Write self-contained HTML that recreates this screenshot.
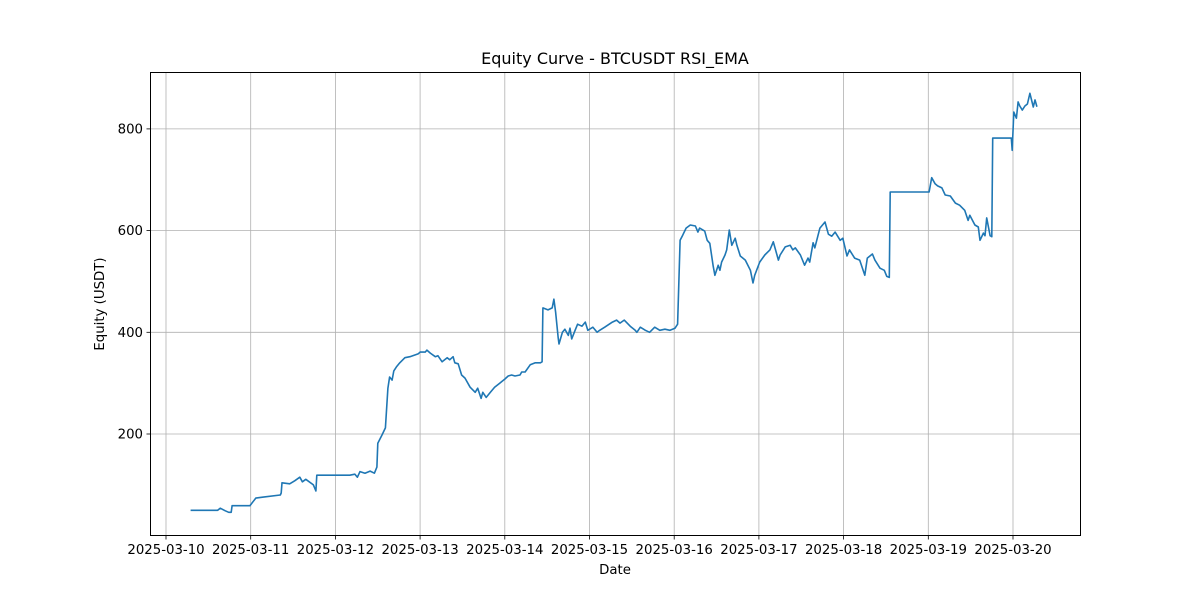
<!DOCTYPE html>
<html><head><meta charset="utf-8"><style>
html,body{margin:0;padding:0;background:#fff;}
svg{display:block;font-family:"DejaVu Sans","Liberation Sans",sans-serif;}
</style></head><body>
<svg id="chart" width="1200" height="600" viewBox="0 0 1200 600">
<rect x="0" y="0" width="1200" height="600" fill="#fff"/>
<g id="grid"></g>
<g id="series"></g>
<rect x="150.5" y="72.5" width="930" height="463" fill="none" stroke="#000" stroke-width="1"/>
<g id="ticks"></g>
<text x="615" y="64" font-size="16" text-anchor="middle">Equity Curve - BTCUSDT RSI_EMA</text>
<text x="615" y="574" font-size="13.3" text-anchor="middle">Date</text>
<text x="104" y="304" font-size="13.3" text-anchor="middle" transform="rotate(-90 104 304)">Equity (USDT)</text>
</svg>
<script>
const days = [0.30,0.61,0.64,0.70,0.74,0.77,0.78,0.99,1.06,1.15,1.35,1.36,1.37,1.46,1.52,1.58,1.61,1.65,1.74,1.77,1.78,2.17,2.23,2.26,2.29,2.35,2.41,2.46,2.49,2.50,2.55,2.59,2.62,2.64,2.67,2.69,2.72,2.76,2.82,2.88,2.98,3.00,3.06,3.08,3.12,3.18,3.21,3.26,3.32,3.35,3.39,3.41,3.45,3.49,3.53,3.59,3.65,3.68,3.72,3.74,3.78,3.83,3.88,3.94,4.00,4.04,4.08,4.12,4.18,4.20,4.24,4.30,4.36,4.42,4.44,4.45,4.51,4.56,4.58,4.60,4.63,4.64,4.68,4.71,4.75,4.77,4.79,4.83,4.86,4.91,4.95,4.98,5.04,5.09,5.12,5.18,5.27,5.32,5.36,5.41,5.48,5.54,5.56,5.60,5.66,5.71,5.77,5.83,5.89,5.95,6.01,6.04,6.07,6.10,6.14,6.19,6.25,6.28,6.30,6.36,6.39,6.42,6.46,6.48,6.52,6.54,6.56,6.60,6.62,6.65,6.68,6.72,6.74,6.78,6.84,6.90,6.93,6.95,7.01,7.07,7.13,7.17,7.19,7.23,7.25,7.31,7.37,7.40,7.43,7.49,7.54,7.58,7.60,7.64,7.66,7.72,7.78,7.82,7.86,7.90,7.96,7.99,8.04,8.07,8.13,8.19,8.25,8.28,8.34,8.37,8.43,8.48,8.51,8.54,8.55,9.01,9.04,9.08,9.11,9.16,9.20,9.26,9.32,9.37,9.43,9.47,9.49,9.55,9.59,9.61,9.65,9.67,9.69,9.73,9.75,9.76,9.98,9.99,10.01,10.04,10.06,10.08,10.11,10.14,10.17,10.20,10.24,10.26,10.28];
const equity = [50,50,54,49,46,46,59,59,74,76,80,84,104,102,108,115,106,111,100,88,119,119,121,115,126,123,127,123,135,182,198,212,290,312,306,324,332,340,350,352,358,361,361,365,359,352,354,342,350,346,352,340,338,316,310,292,282,290,270,282,272,282,292,300,308,314,316,314,316,322,322,336,340,340,342,448,444,448,465,440,389,377,400,406,394,408,387,404,416,412,420,404,410,400,404,410,420,424,418,424,412,404,400,410,404,400,410,404,406,404,408,416,581,591,605,611,609,597,605,599,581,575,530,512,532,522,538,552,562,601,571,585,571,550,542,522,497,512,538,552,562,578,566,542,552,568,571,562,566,552,532,546,538,576,566,605,617,593,589,597,581,585,550,562,546,542,512,546,554,542,526,522,510,508,676,676,704,692,688,684,670,668,654,650,640,620,630,611,607,581,595,590,625,590,588,782,782,758,833,821,853,845,837,845,849,870,843,857,845];
const xTickLabels = ["2025-03-10","2025-03-11","2025-03-12","2025-03-13","2025-03-14","2025-03-15","2025-03-16","2025-03-17","2025-03-18","2025-03-19","2025-03-20"];
const yTicks = [200,400,600,800];

const NS = "http://www.w3.org/2000/svg";
const x = d => 166 + d * 84.7;
const y = v => 535.7 - v * 0.5085;
const grid = document.getElementById('grid');
const ticks = document.getElementById('ticks');
function mk(tag, attrs, parent){const e=document.createElementNS(NS,tag);for(const k in attrs)e.setAttribute(k,attrs[k]);parent.appendChild(e);return e;}

xTickLabels.forEach((lab,i)=>{
  const px = x(i);
  const g = mk('line',{x1:px,x2:px,y1:72.5,y2:535.5,stroke:'#b0b0b0','stroke-width':0.8},grid);
  
  
  const t = mk('line',{x1:px,x2:px,y1:535.5,y2:539.5,stroke:'#000','stroke-width':0.8},ticks);
  
  
  const tx = mk('text',{x:px,y:554,'font-size':13.3,'text-anchor':'middle'},ticks);
  tx.textContent = lab;
  
  
});
yTicks.forEach(v=>{
  const py = y(v);
  const g = mk('line',{x1:150.5,x2:1080.5,y1:py,y2:py,stroke:'#b0b0b0','stroke-width':0.8},grid);
  
  
  const t = mk('line',{x1:146.5,x2:150.5,y1:py,y2:py,stroke:'#000','stroke-width':0.8},ticks);
  
  
  const tx = mk('text',{x:143,y:py+4.5,'font-size':13.3,'text-anchor':'end'},ticks);
  tx.textContent = v;
  
  
});
const pts = days.map((d,i)=>x(d).toFixed(1)+','+y(equity[i]).toFixed(1)).join(' ');
const line = mk('polyline',{points:pts,fill:'none',stroke:'#1f77b4','stroke-width':1.6,'stroke-linejoin':'round','stroke-linecap':'square'},document.getElementById('series'));


</script>
</body></html>
